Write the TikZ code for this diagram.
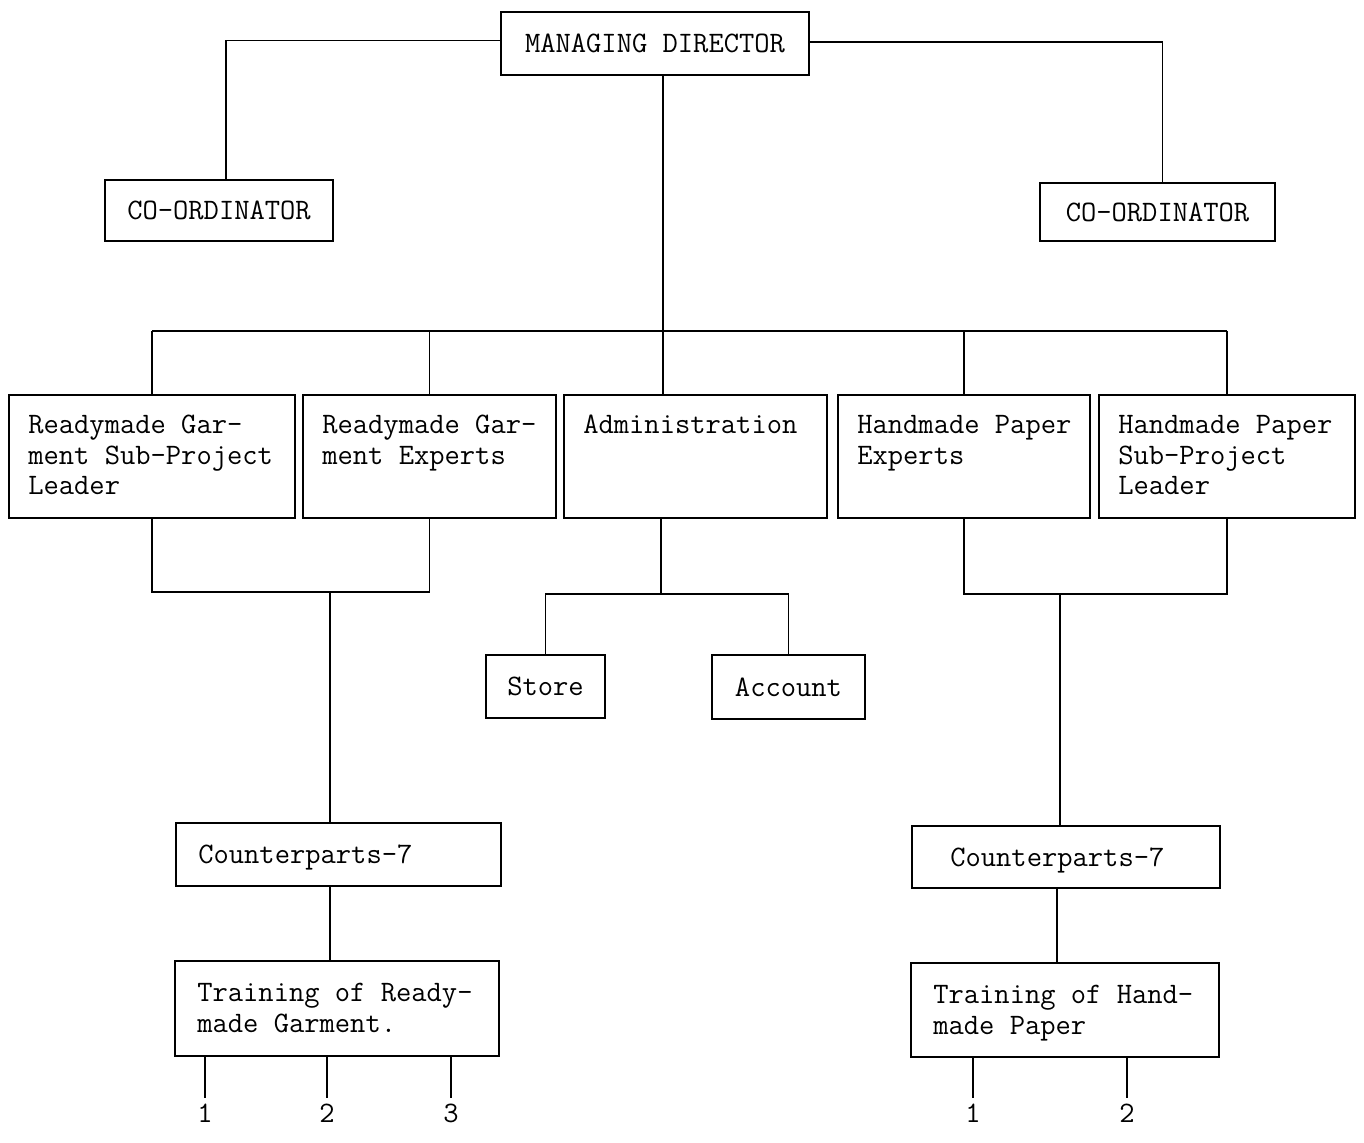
\documentclass[tikz,border=0pt]{standalone}
\usepackage{fontspec}

\begin{document}
\begin{tikzpicture}[x=0.02cm,y=-0.02cm,
	every node/.style={font=\ttfamily\fontsize{16.9}{17.4}\selectfont},
	box/.style={draw,line width=1.2pt,inner sep=0pt},
	txt/.style={anchor=north west,align=left,inner sep=0pt,xshift=0.40cm,yshift=-0.42cm},
	trtxt/.style={anchor=north west,align=left,inner sep=0pt,xshift=0.46cm,yshift=-0.46cm},
	cptxt/.style={anchor=west,inner sep=0pt,yshift=-0.06cm},
	link/.style={line width=1.1pt}]
	\def\u{0.02cm}
	\useasboundingbox (0,0) rectangle (1364,1142);

	%TOP
	\node[box,minimum width=308*\u,minimum height=63*\u] (md) at (655,43.5) {MANAGING DIRECTOR};
	\node[box,minimum width=228*\u,minimum height=61*\u] (coL) at (219,210.5) {CO-ORDINATOR};
	\node[box,minimum width=235*\u,minimum height=58*\u] (coR) at (1157.5,212) {CO-ORDINATOR};

	%SECOND ROW
	\node[box,minimum width=286*\u,minimum height=123*\u,
		label={[txt]north west:Readymade Gar-\\ment Sub-Project\\Leader}] (rgl) at (152,456.5) {};
	\node[box,minimum width=253*\u,minimum height=123*\u,
		label={[txt]north west:Readymade Gar-\\ment Experts}] (rge) at (429.5,456.5) {};
	\node[box,minimum width=263*\u,minimum height=123*\u,
		label={[txt]north west:Administration}] (adm) at (695.5,456.5) {};
	\node[box,minimum width=252*\u,minimum height=123*\u,
		label={[txt]north west:Handmade Paper\\Experts}] (hpe) at (964,456.5) {};
	\node[box,minimum width=256*\u,minimum height=123*\u,
		label={[txt]north west:Handmade Paper\\Sub-Project\\Leader}] (hpl) at (1227,456.5) {};

	%ADMINISTRATION
	\node[box,minimum width=119*\u,minimum height=63*\u] (store) at (545.5,686.5) {Store};
	\node[box,minimum width=153*\u,minimum height=64*\u] (acct) at (788.5,687) {Account};

	%COUNTERPARTS AND TRAINING
	\node[box,minimum width=325*\u,minimum height=63*\u,
		label={[cptxt,xshift=0.46cm]west:Counterparts-7}] (cpL) at (338.5,854.5) {};
	\node[box,minimum width=308*\u,minimum height=62*\u,
		label={[cptxt,xshift=0.78cm]west:Counterparts-7}] (cpR) at (1066,857) {};
	\node[box,minimum width=324*\u,minimum height=95*\u,
		label={[trtxt]north west:Training of Ready-\\made Garment.}] (trL) at (337,1008.5) {};
	\node[box,minimum width=308*\u,minimum height=94*\u,
		label={[trtxt]north west:Training of Hand-\\made Paper}] (trR) at (1065,1010) {};

	%LINES
	\coordinate (bus) at (663,331);
	\coordinate (rgbus) at (330,592);
	\coordinate (admbus) at (661,594);
	\coordinate (hpbus) at (1060,594);

	\draw[link] ([yshift=0.06cm]md.west) -| ([xshift=0.14cm]coL.north);
	\draw[link] ([yshift=0.03cm]md.east) -| ([xshift=0.1cm]coR.north);
	\draw[link] (md.south -| bus) -- (adm.north -| bus);
	\draw[link] (rgl.north |- bus) -- (hpl.north |- bus);
	\foreach \n in {rgl,rge,hpe,hpl}
		\draw[link] (\n.north |- bus) -- (\n.north);

	\draw[link] (rgl.south) -- (rgl.south |- rgbus) -- (rge.south |- rgbus) -- (rge.south);
	\draw[link] (rgbus) -- (cpL.north -| rgbus);
	\draw[link] (cpL.south -| rgbus) -- (trL.north -| rgbus);

	\draw[link] (adm.south -| admbus) -- (admbus);
	\draw[link] (store.north) |- (admbus) -| (acct.north);

	\draw[link] (hpe.south) -- (hpe.south |- hpbus) -- (hpl.south |- hpbus) -- (hpl.south);
	\draw[link] (hpbus) -- (cpR.north -| hpbus);
	\draw[link] ([xshift=-0.06cm]cpR.south -| hpbus) -- ([xshift=-0.06cm]trR.north -| hpbus);

	%TRAINEE GROUPS
	\foreach \x/\k in {205/1,327/2,451/3}
		\draw[link] (trL.south -| \x,0) -- (\x,1098) node[below,inner sep=3pt] (tL\k) {\k};
	\foreach \x/\k in {973/1,1127/2}
		\draw[link] (trR.south -| \x,0) -- (\x,1098) node[below,inner sep=3pt] (tR\k) {\k};
\end{tikzpicture}
\end{document}
